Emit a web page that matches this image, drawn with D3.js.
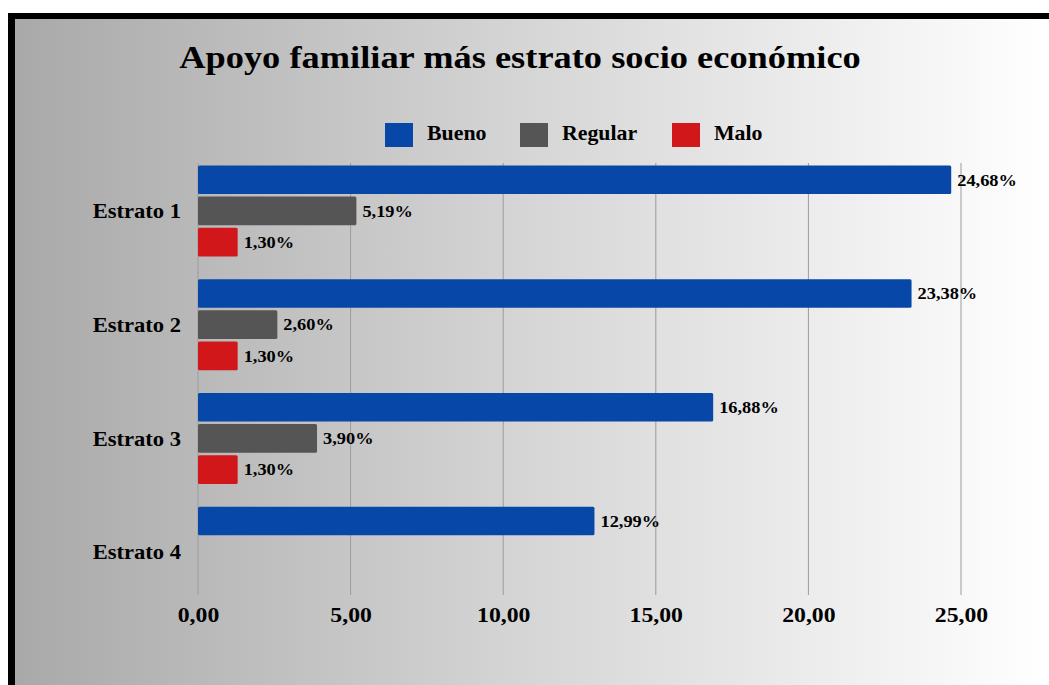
<!DOCTYPE html>
<html>
<head>
<meta charset="utf-8">
<script src="https://cdn.jsdelivr.net/npm/d3@7"></script>
<style>
html,body{margin:0;padding:0;background:#fff;}
svg{display:block;}
text{font-family:"Liberation Serif","Times New Roman",serif;font-weight:bold;fill:#000;}
</style>
</head>
<body>
<svg id="chart" width="1049" height="685"></svg>
<script>
const categories = ["Estrato 1", "Estrato 2", "Estrato 3", "Estrato 4"];
const seriesNames = ["Bueno", "Regular", "Malo"];
const bueno = [24.68, 23.38, 16.88, 12.99];
const regular = [5.19, 2.60, 3.90, 0];
const malo = [1.30, 1.30, 1.30, 0];
const xTicks = [0, 5, 10, 15, 20, 25];
const colors = ["#0747a8", "#555555", "#d11719"];
const title = "Apoyo familiar más estrato socio económico";

const values = [bueno, regular, malo];
const fmt = v => v.toFixed(2).replace(".", ",");

const svg = d3.select("#chart");
const W = 1049, H = 685;

// frame & gradient background
const defs = svg.append("defs");
const grad = defs.append("linearGradient").attr("id", "bg").attr("x1", "0").attr("x2", "1").attr("y1", "0").attr("y2", "0");
grad.append("stop").attr("offset", "0").attr("stop-color", "#a9a9a9");
grad.append("stop").attr("offset", "0.5").attr("stop-color", "#d6d6d6");
grad.append("stop").attr("offset", "1").attr("stop-color", "#ffffff");

svg.append("rect").attr("x", 8).attr("y", 13).attr("width", W - 8).attr("height", H - 13).attr("fill", "#000");
svg.append("rect").attr("x", 15).attr("y", 19).attr("width", W - 15).attr("height", H - 19).attr("fill", "url(#bg)");

// title
svg.append("text").attr("transform", "translate(520,68) scale(1.12,1)").attr("text-anchor", "middle")
  .style("font-size", "32.5px").text(title);

// scales
const x = d3.scaleLinear().domain([0, 25]).range([198, 961]);
const y0 = d3.scaleBand().domain(categories).range([154, 609]).paddingInner(0.2).paddingOuter(0.1);
const y1 = d3.scaleBand().domain(seriesNames).range([0, y0.bandwidth()]).paddingInner(0.08).paddingOuter(0);

// gridlines
const gridTop = 163, gridBottom = 595;
svg.append("g").selectAll("line").data(xTicks).join("line")
  .attr("x1", d => x(d)).attr("x2", d => x(d))
  .attr("y1", gridTop).attr("y2", gridBottom)
  .attr("stroke", "#9c9c9c").attr("stroke-width", 1);

// x axis labels
const xAxis = d3.axisBottom(x).tickValues(xTicks).tickFormat(fmt).tickSize(0).tickPadding(0);
const gx = svg.append("g").attr("transform", `translate(0,${622})`).call(xAxis);
gx.select(".domain").remove();
gx.selectAll("text").attr("y", 0).attr("dy", 0).attr("transform", "scale(1.13,1)")
  .style("font-size", "21px")
  .style("font-family", "'Liberation Serif', serif").style("font-weight", "bold").attr("fill", "#000");

// y axis labels
const yAxis = d3.axisLeft(y0).tickSize(0).tickPadding(0);
const gy = svg.append("g").attr("transform", "translate(181,0)").call(yAxis);
gy.select(".domain").remove();
gy.selectAll("text").attr("x", 0).attr("dy", "0.34em").attr("transform", "scale(1.05,1)")
  .style("font-size", "21.5px")
  .style("font-family", "'Liberation Serif', serif").style("font-weight", "bold").attr("fill", "#000");

// bars
const rows = [];
categories.forEach((c, i) => seriesNames.forEach((s, j) => rows.push({ cat: c, ser: s, v: values[j][i], color: colors[j] })));

svg.append("g").selectAll("rect").data(rows.filter(d => d.v > 0)).join("rect")
  .attr("x", x(0))
  .attr("y", d => y0(d.cat) + y1(d.ser))
  .attr("width", d => x(d.v) - x(0))
  .attr("height", y1.bandwidth())
  .attr("rx", 1.5)
  .attr("fill", d => d.color);

svg.append("g").selectAll("text").data(rows.filter(d => d.v > 0)).join("text")
  .attr("transform", d => `translate(${x(d.v) + 6},${y0(d.cat) + y1(d.ser) + y1.bandwidth() / 2}) scale(1.08,1)`)
  .attr("dy", "0.34em")
  .style("font-size", "17px")
  .text(d => fmt(d.v) + "%");

// legend
const legendX = [385, 520, 672];
const lg = svg.append("g").selectAll("g").data(seriesNames).join("g")
  .attr("transform", (d, i) => `translate(${legendX[i]},123)`);
lg.append("rect").attr("width", 28).attr("height", 24).attr("fill", (d, i) => colors[i]);
lg.append("text").attr("transform", "translate(42,17) scale(1.04,1)").style("font-size", "21px").text(d => d);
</script>
</body>
</html>
